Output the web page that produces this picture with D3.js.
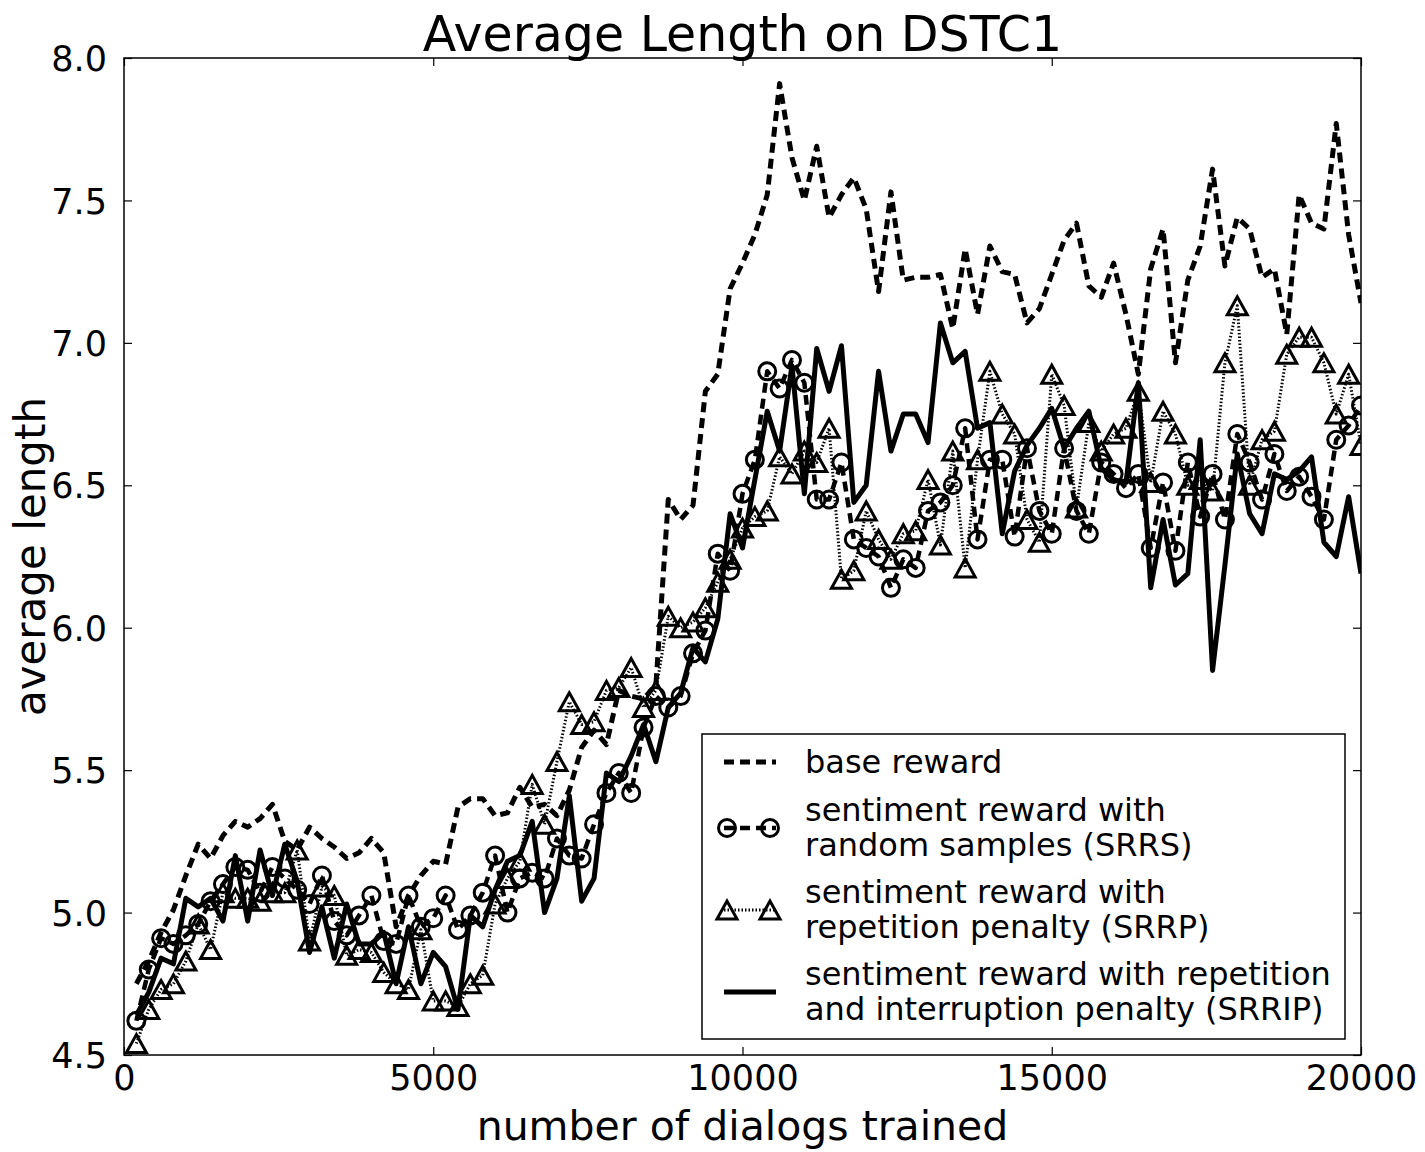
<!DOCTYPE html>
<html>
<head>
<meta charset="utf-8">
<script src="https://cdn.jsdelivr.net/npm/d3@7"></script>
<style>
  body { margin: 0; background: #fff; }
  text { font-family: "DejaVu Sans", sans-serif; fill: #000; }
</style>
</head>
<body>
<div id="chart"></div>
<script>
// Average length per training step, four reward set-ups

const dialogs = [200,400,600,800,1000,1200,1400,1600,1800,2000,
  2200,2400,2600,2800,3000,3200,3400,3600,3800,4000,
  4200,4400,4600,4800,5000,5200,5400,5600,5800,6000,
  6200,6400,6600,6800,7000,7200,7400,7600,7800,8000,
  8200,8400,8600,8800,9000,9200,9400,9600,9800,10000,
  10200,10400,10600,10800,11000,11200,11400,11600,11800,12000,
  12200,12400,12600,12800,13000,13200,13400,13600,13800,14000,
  14200,14400,14600,14800,15000,15200,15400,15600,15800,16000,
  16200,16400,16600,16800,17000,17200,17400,17600,17800,18000,
  18200,18400,18600,18800,19000,19200,19400,19600,19800,20000];

const baseReward = [4.75,4.83,4.93,5.01,5.13,5.24,5.19,5.27,5.32,5.30,
  5.33,5.38,5.25,5.22,5.30,5.26,5.23,5.19,5.21,5.26,
  5.21,4.95,5.06,5.13,5.18,5.17,5.37,5.40,5.40,5.34,
  5.35,5.44,5.37,5.38,5.34,5.43,5.58,5.64,5.59,5.78,
  5.76,5.75,5.80,6.45,6.38,6.43,6.83,6.89,7.19,7.28,
  7.38,7.52,7.91,7.65,7.50,7.69,7.44,7.52,7.58,7.47,
  7.18,7.53,7.22,7.23,7.23,7.24,7.05,7.33,7.10,7.34,
  7.25,7.24,7.07,7.12,7.24,7.36,7.42,7.20,7.16,7.28,
  7.10,6.89,7.26,7.40,6.93,7.22,7.34,7.61,7.27,7.44,
  7.40,7.23,7.26,7.03,7.52,7.42,7.40,7.77,7.38,7.14];

const srrs = [4.62,4.80,4.91,4.89,4.92,4.96,5.04,5.10,5.16,5.15,
  5.07,5.16,5.12,5.08,5.03,5.13,4.97,4.92,4.99,5.06,
  4.90,4.89,5.06,4.95,4.98,5.06,4.94,4.99,5.07,5.20,
  5.00,5.12,5.14,5.12,5.26,5.20,5.19,5.31,5.42,5.49,
  5.42,5.65,5.76,5.72,5.76,5.91,5.99,6.26,6.20,6.47,
  6.59,6.90,6.84,6.94,6.86,6.45,6.45,6.58,6.31,6.28,
  6.25,6.14,6.24,6.21,6.41,6.44,6.50,6.70,6.31,6.59,
  6.59,6.32,6.63,6.41,6.33,6.63,6.41,6.33,6.58,6.54,
  6.49,6.54,6.28,6.51,6.27,6.58,6.39,6.54,6.38,6.68,
  6.58,6.45,6.61,6.48,6.53,6.46,6.38,6.66,6.71,6.78];

const srrp = [4.54,4.66,4.73,4.75,4.83,4.96,4.87,5.07,5.05,5.05,
  5.04,5.07,5.07,5.22,4.90,5.09,5.06,4.85,4.87,4.86,
  4.79,4.75,4.73,4.94,4.69,4.69,4.67,4.75,4.78,5.03,
  5.12,5.18,5.45,5.31,5.53,5.74,5.66,5.67,5.78,5.79,
  5.86,5.72,5.78,6.04,6.00,6.02,6.07,6.16,6.24,6.35,
  6.39,6.41,6.60,6.54,6.62,6.58,6.70,6.17,6.20,6.41,
  6.31,6.24,6.33,6.34,6.52,6.29,6.62,6.21,6.59,6.90,
  6.75,6.68,6.38,6.30,6.89,6.78,6.42,6.72,6.62,6.68,
  6.70,6.83,6.51,6.76,6.68,6.50,6.52,6.48,6.93,7.13,
  6.50,6.66,6.69,6.96,7.02,7.02,6.93,6.75,6.89,6.64];

const srrip = [4.64,4.72,4.84,4.82,5.05,5.02,5.05,4.97,5.20,4.97,
  5.22,5.06,5.24,5.11,4.86,5.02,4.84,5.03,4.89,4.89,
  4.93,4.75,4.95,4.75,4.86,4.81,4.66,4.99,4.95,5.08,
  5.18,5.20,5.32,5.00,5.12,5.41,5.04,5.12,5.49,5.46,
  5.55,5.66,5.53,5.72,5.77,5.93,5.88,6.03,6.40,6.28,
  6.52,6.76,6.62,6.92,6.47,6.98,6.83,6.99,6.44,6.50,
  6.90,6.62,6.75,6.75,6.65,7.07,6.93,6.97,6.70,6.72,
  6.33,6.55,6.64,6.70,6.77,6.63,6.70,6.76,6.56,6.52,
  6.51,6.86,6.14,6.38,6.15,6.19,6.66,5.85,6.22,6.61,
  6.40,6.33,6.54,6.52,6.55,6.60,6.30,6.25,6.46,6.19];

const xTicks = [0, 5000, 10000, 15000, 20000];
const yTicks = [4.5, 5.0, 5.5, 6.0, 6.5, 7.0, 7.5, 8.0];

const legendLabels = [
  ["base reward"],
  ["sentiment reward with", "random samples (SRRS)"],
  ["sentiment reward with", "repetition penalty (SRRP)"],
  ["sentiment reward with repetition", "and interruption penalty (SRRIP)"]
];

const W = 1425, H = 1152;
const margin = {top: 58, right: 64, bottom: 97, left: 124};
const plotW = W - margin.left - margin.right,
      plotH = H - margin.top - margin.bottom;

const svg = d3.select("#chart").append("svg")
  .attr("width", W).attr("height", H);

svg.append("rect").attr("width", W).attr("height", H).attr("fill", "#fff");

const g = svg.append("g")
  .attr("transform", `translate(${margin.left},${margin.top})`);

const x = d3.scaleLinear().domain([0, 20000]).range([0, plotW]);
const y = d3.scaleLinear().domain([4.5, 8.0]).range([plotH, 0]);

// styles for each series (line + marker)
const series = [
  {vals: baseReward, dash: "10,6", lw: 5, marker: null},
  {vals: srrs, dash: "10,6", lw: 4.5, marker: "circle"},
  {vals: srrp, dash: "1.5,2", lw: 3, marker: "triangle"},
  {vals: srrip, dash: null, lw: 5, marker: null}
];

const line = d3.line()
  .x((d, i) => x(dialogs[i]))
  .y(d => y(d));

const triPath = "M0,-9L-10,9L10,9Z";

function drawMarkers(sel, kind, pts) {
  if (kind === "circle") {
    sel.selectAll("circle.m").data(pts).join("circle")
      .attr("class", "m")
      .attr("cx", d => d[0]).attr("cy", d => d[1])
      .attr("r", 8.5)
      .attr("fill", "none").attr("stroke", "#000").attr("stroke-width", 3);
  } else if (kind === "triangle") {
    sel.selectAll("path.m").data(pts).join("path")
      .attr("class", "m")
      .attr("d", triPath)
      .attr("transform", d => `translate(${d[0]},${d[1]})`)
      .attr("fill", "none").attr("stroke", "#000").attr("stroke-width", 3)
      .attr("stroke-linejoin", "miter");
  }
}

svg.append("clipPath").attr("id", "plotclip")
  .append("rect").attr("width", plotW).attr("height", plotH);

const plot = g.append("g").attr("clip-path", "url(#plotclip)");

series.forEach(s => {
  const sg = plot.append("g");
  sg.append("path")
    .attr("d", line(s.vals))
    .attr("fill", "none")
    .attr("stroke", "#000")
    .attr("stroke-width", s.lw)
    .attr("stroke-dasharray", s.dash)
    .attr("stroke-linejoin", "round");
  if (s.marker) {
    drawMarkers(sg, s.marker, s.vals.map((v, i) => [x(dialogs[i]), y(v)]));
  }
});

// frame
g.append("rect")
  .attr("width", plotW).attr("height", plotH)
  .attr("fill", "none").attr("stroke", "#000").attr("stroke-width", 1.5);

// inward ticks on all four sides
const tickLen = 8;
g.append("g").call(d3.axisBottom(x).tickValues(xTicks).tickSize(-tickLen).tickFormat(d => d))
  .attr("transform", `translate(0,${plotH})`)
  .call(a => a.select(".domain").remove())
  .call(a => a.selectAll("line").attr("stroke-width", 1.2))
  .call(a => a.selectAll("text").attr("dy", null).attr("y", 35)
    .style("font-size", "35px").style("font-family", "DejaVu Sans"));
g.append("g").call(d3.axisTop(x).tickValues(xTicks).tickSize(-tickLen).tickFormat(""))
  .call(a => a.select(".domain").remove())
  .call(a => a.selectAll("line").attr("stroke-width", 1.2));
g.append("g").call(d3.axisLeft(y).tickValues(yTicks).tickSize(-tickLen).tickFormat(d3.format(".1f")))
  .call(a => a.select(".domain").remove())
  .call(a => a.selectAll("line").attr("stroke-width", 1.2))
  .call(a => a.selectAll("text").attr("x", -17).attr("dy", "0.36em")
    .style("font-size", "35px").style("font-family", "DejaVu Sans"));
g.append("g").call(d3.axisRight(y).tickValues(yTicks).tickSize(-tickLen).tickFormat(""))
  .attr("transform", `translate(${plotW},0)`)
  .call(a => a.select(".domain").remove())
  .call(a => a.selectAll("line").attr("stroke-width", 1.2));

// title and axis labels
svg.append("text")
  .attr("x", margin.left + plotW / 2).attr("y", 51)
  .attr("text-anchor", "middle")
  .style("font-size", "49px")
  .text("Average Length on DSTC1");

svg.append("text")
  .attr("x", margin.left + plotW / 2).attr("y", 1140)
  .attr("text-anchor", "middle")
  .style("font-size", "41px")
  .text("number of dialogs trained");

svg.append("text")
  .attr("transform", `translate(45,${margin.top + plotH / 2}) rotate(-90)`)
  .attr("text-anchor", "middle")
  .style("font-size", "42px")
  .text("average length");

// legend
const lg = svg.append("g").attr("transform", "translate(702,734)");
lg.append("rect")
  .attr("width", 643).attr("height", 305)
  .attr("fill", "#fff").attr("stroke", "#000").attr("stroke-width", 1.5);

const rowY = [28, 94, 176, 258];
series.forEach((s, k) => {
  const row = lg.append("g").attr("transform", `translate(0,${rowY[k]})`);
  row.append("line")
    .attr("x1", 22).attr("x2", 74).attr("y1", 0).attr("y2", 0)
    .attr("stroke", "#000").attr("stroke-width", s.lw)
    .attr("stroke-dasharray", s.dash);
  if (s.marker) drawMarkers(row, s.marker, [[25, 0], [68, 0]]);
  const lines = legendLabels[k];
  const t = row.append("text").attr("x", 103).style("font-size", "32px");
  lines.forEach((txt, j) => {
    t.append("tspan").attr("x", 103)
      .attr("y", lines.length === 1 ? 11 : (j === 0 ? -7 : 28))
      .text(txt);
  });
});
</script>
</body>
</html>
